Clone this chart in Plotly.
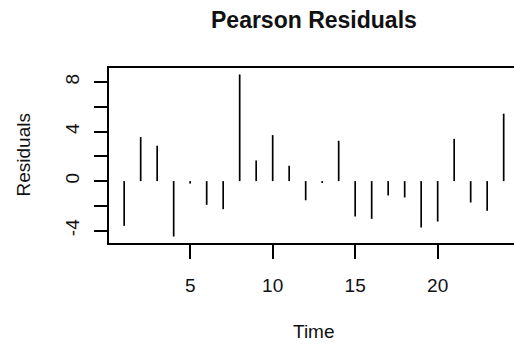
import plotly.graph_objects as go

# Pearson residuals of the fitted model, one per time point
time = list(range(1, 25))
residuals = [-3.62, 3.56, 2.86, -4.48, -0.2, -1.92, -2.27, 8.62,
             1.67, 3.72, 1.24, -1.55, -0.15, 3.26, -2.86, -3.05,
             -1.16, -1.32, -3.75, -3.27, 3.42, -1.73, -2.4, 5.45]

x_ticks = [5, 10, 15, 20]
y_ticks = [-4, -2, 0, 2, 4, 6, 8]
y_tick_text = ["-4", "", "0", "", "4", "", "8"]

FONT = "Liberation Sans, Arial, Helvetica, sans-serif"
W, H = 514, 345
L, R, T, B = 109, 0, 68, 102

# 4% padding on each side of the data range, like base R graphics
ymin, ymax = min(residuals), max(residuals)
pad = 0.04 * (ymax - ymin)
y_range = [ymin - pad, ymax + pad]
xpad = 0.04 * (time[-1] - time[0])
x_full = [time[0] - xpad, time[-1] + xpad]
px_per_unit = 16.5
x_range = [x_full[0], x_full[0] + (W - L - R) / px_per_unit]

# type="h" style: a vertical segment from zero to each residual
xs, ys = [], []
for t, r in zip(time, residuals):
    xs += [t, t, None]
    ys += [0, r, None]

fig = go.Figure(go.Scatter(
    x=xs, y=ys, mode="lines",
    line=dict(color="black", width=1.7),
    hoverinfo="skip", showlegend=False,
))

fig.update_layout(
    width=W, height=H,
    margin=dict(l=L, r=R, t=T, b=B, pad=0),
    paper_bgcolor="white", plot_bgcolor="white",
    font=dict(family=FONT, color="#111111", size=19),
    showlegend=False,
)

fig.update_xaxes(
    range=x_range, tickvals=x_ticks, ticktext=[str(v) for v in x_ticks],
    showgrid=False, zeroline=False,
    showline=True, mirror=True, linecolor="black", linewidth=1.6,
    ticks="outside", ticklen=14, tickwidth=1.6, tickcolor="black",
    tickfont=dict(size=19, family=FONT, color="#111111"),
    ticklabelstandoff=10,
)
fig.update_yaxes(
    range=y_range, tickvals=y_ticks, ticktext=y_tick_text,
    showgrid=False, zeroline=False,
    showline=True, mirror=False, linecolor="black", linewidth=1.6,
    ticks="outside", ticklen=13, tickwidth=1.6, tickcolor="black",
    tickangle=-90,
    tickfont=dict(size=19, family=FONT, color="#111111"),
    ticklabelstandoff=8,
)

fig.add_annotation(
    text="<b>Pearson Residuals</b>", xref="paper", yref="paper",
    x=0.506, y=1, yshift=T - 20, xanchor="center", yanchor="middle",
    showarrow=False, font=dict(size=23, family=FONT, color="#111111"),
)
fig.add_annotation(
    text="Time", xref="paper", yref="paper",
    x=0.506, y=0, yshift=-(331 - (H - B)), xanchor="center", yanchor="middle",
    showarrow=False, font=dict(size=19, family=FONT, color="#111111"),
)
fig.add_annotation(
    text="Residuals", xref="paper", yref="paper",
    x=0, y=0.5, xshift=23 - L, xanchor="center", yanchor="middle",
    textangle=-90, showarrow=False,
    font=dict(size=19, family=FONT, color="#111111"),
)

fig.write_html("out.html")
